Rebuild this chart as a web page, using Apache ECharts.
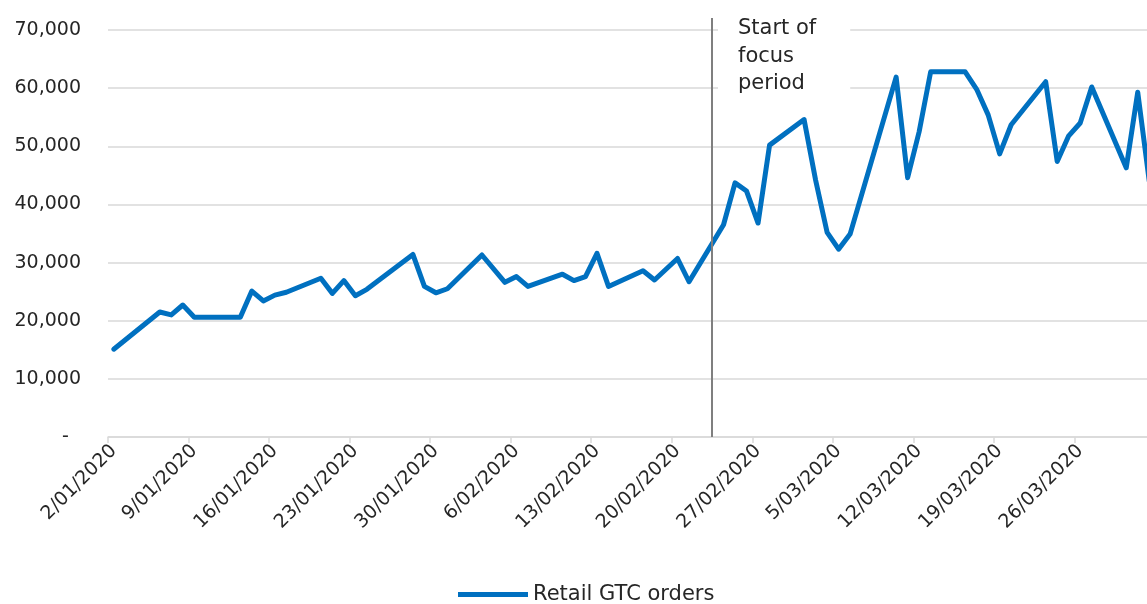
<!DOCTYPE html>
<html>
<head>
<meta charset="utf-8">
<script src="https://cdn.jsdelivr.net/npm/echarts@6/dist/echarts.min.js"></script>
<style>
  html, body { margin: 0; padding: 0; background: #ffffff; overflow: hidden; width: 1147px; height: 604px; }
  #chart { width: 1155px; height: 604px; }
</style>
</head>
<body>
<div id="chart"></div>
<script>
// ---- data ----
const tradingDates = [
  '2020-01-02','2020-01-06','2020-01-07','2020-01-08','2020-01-09','2020-01-13','2020-01-14',
  '2020-01-15','2020-01-16','2020-01-17','2020-01-20','2020-01-21','2020-01-22','2020-01-23',
  '2020-01-24','2020-01-28','2020-01-29','2020-01-30','2020-01-31','2020-02-03','2020-02-05',
  '2020-02-06','2020-02-07','2020-02-10','2020-02-11','2020-02-12','2020-02-13','2020-02-14',
  '2020-02-17','2020-02-18','2020-02-20','2020-02-21','2020-02-24','2020-02-25','2020-02-26',
  '2020-02-27','2020-02-28','2020-03-02','2020-03-03','2020-03-04','2020-03-05','2020-03-06',
  '2020-03-10','2020-03-11','2020-03-12','2020-03-13','2020-03-16','2020-03-17','2020-03-18',
  '2020-03-19','2020-03-20','2020-03-23','2020-03-24','2020-03-25','2020-03-26','2020-03-27',
  '2020-03-30','2020-03-31','2020-04-01'
];
const retailGtcOrders = [
  15100, 21500, 21000, 22700, 20600, 20600, 25100,
  23400, 24400, 24900, 27300, 24700, 26900, 24300,
  25400, 31400, 25900, 24800, 25500, 31300, 26600,
  27600, 25900, 28000, 26900, 27600, 31600, 25900,
  28600, 27000, 30700, 26700, 36500, 43700, 42300,
  36800, 50200, 54600, 44200, 35200, 32300, 34900,
  61900, 44600, 52500, 62800, 62800, 59800, 55400,
  48700, 53700, 61100, 47400, 51800, 54000, 60200,
  46300, 59300, 44000
];
const seriesName = 'Retail GTC orders';
const focusStartDate = '2020-02-23';
const focusLabel = 'Start of\nfocus\nperiod';
const yTicks = [0, 10000, 20000, 30000, 40000, 50000, 60000, 70000];

// ---- calendar-day categories (date axis) ----
const categories = [];
(function () {
  const first = new Date(tradingDates[0] + 'T00:00:00Z');
  const last = new Date(tradingDates[tradingDates.length - 1] + 'T00:00:00Z');
  for (let t = first.getTime(); t <= last.getTime(); t += 86400000) {
    categories.push(new Date(t).toISOString().slice(0, 10));
  }
})();
const valueByDate = {};
tradingDates.forEach((d, i) => { valueByDate[d] = retailGtcOrders[i]; });
const seriesData = categories.map(d => (d in valueByDate ? valueByDate[d] : null));

const FONT = 'DejaVu Sans';
const TXT = '#262626';
const GRID = '#d9d9d9';
const BLUE = '#0070C0';

const chart = echarts.init(document.getElementById('chart'), null, { renderer: 'canvas' });
chart.setOption({
  animation: false,
  backgroundColor: '#ffffff',
  textStyle: { fontFamily: FONT },
  title: {
    text: focusLabel,
    left: 718, top: 15,
    backgroundColor: '#ffffff',
    padding: [0, 34, 0, 20],
    textStyle: { fontFamily: FONT, fontSize: 21, fontWeight: 'normal', color: TXT, lineHeight: 27.5 },
    z: 10
  },
  legend: {
    data: [{ name: seriesName, icon: 'rect' }],
    left: 458, top: 584,
    padding: 0,
    itemWidth: 70, itemHeight: 5,
    itemStyle: { color: BLUE },
    textStyle: { fontFamily: FONT, fontSize: 21, color: TXT }
  },
  grid: [
    { left: 108, right: 0, top: 30, bottom: 167, containLabel: false },
    { left: 108, right: 0, top: 18, bottom: 167, containLabel: false }
  ],
  xAxis: [
    {
      type: 'category', gridIndex: 0, data: categories, boundaryGap: true,
      axisLine: { lineStyle: { color: GRID, width: 1.5 } },
      axisTick: { show: true, interval: 6, length: 6, lineStyle: { color: GRID, width: 1.5 } },
      axisLabel: {
        interval: 6, rotate: 45, margin: 11,
        fontFamily: FONT, fontSize: 19, color: TXT,
        formatter: v => { const p = v.split('-'); return (+p[2]) + '/' + p[1] + '/' + p[0]; }
      },
      splitLine: { show: false }
    },
    { type: 'category', gridIndex: 1, data: categories, boundaryGap: true, show: false }
  ],
  yAxis: [
    {
      type: 'value', gridIndex: 0, min: yTicks[0], max: yTicks[yTicks.length - 1],
      interval: yTicks[1] - yTicks[0],
      axisLine: { show: false }, axisTick: { show: false },
      axisLabel: {
        margin: 27, fontFamily: FONT, fontSize: 19, color: TXT,
        formatter: v => (v === 0 ? '-  ' : v.toLocaleString('en-US'))
      },
      splitLine: { lineStyle: { color: GRID, width: 1.5 } }
    },
    { type: 'value', gridIndex: 1, min: 0, max: 1, show: false }
  ],
  series: [
    {
      name: seriesName, type: 'line', xAxisIndex: 0, yAxisIndex: 0,
      data: seriesData, connectNulls: true, symbol: 'none', smooth: false,
      lineStyle: { color: BLUE, width: 5, cap: 'round', join: 'round' },
      itemStyle: { color: BLUE },
      z: 3
    },
    {
      name: 'focus', type: 'line', xAxisIndex: 1, yAxisIndex: 1, data: [],
      symbol: 'none', silent: true,
      markLine: {
        silent: true, symbol: ['none', 'none'],
        label: { show: false },
        lineStyle: { color: '#7f7f7f', width: 2, type: 'solid' },
        data: [{ xAxis: focusStartDate }]
      }
    }
  ]
});
</script>
</body>
</html>
